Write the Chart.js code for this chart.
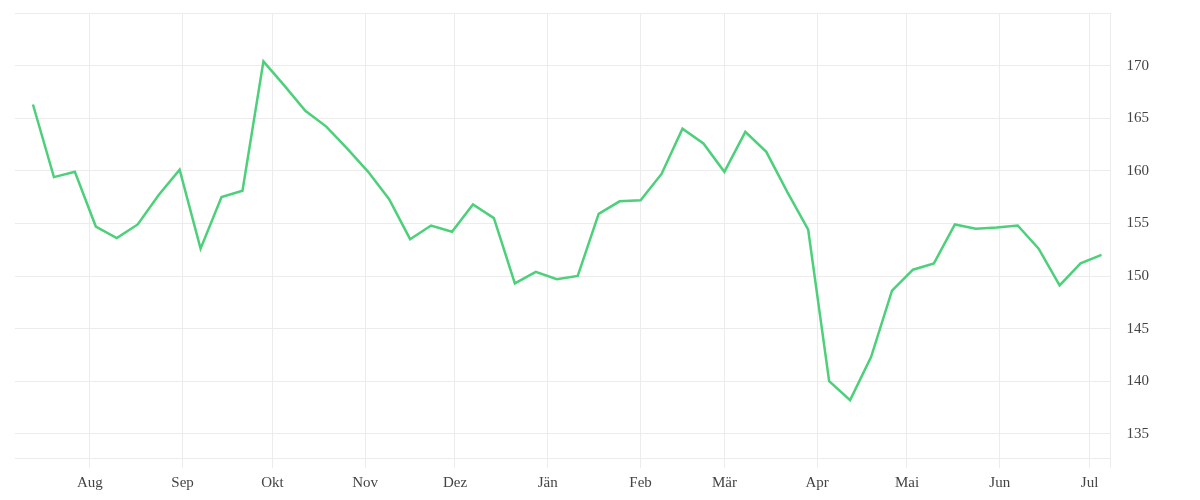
<!DOCTYPE html>
<html>
<head>
<meta charset="utf-8">
<script src="https://cdn.jsdelivr.net/npm/chart.js@4"></script>
<style>
  html, body { margin: 0; padding: 0; background: #fff; }
  #wrap { width: 1200px; height: 500px; }
</style>
</head>
<body>
<div id="wrap"><canvas id="chart" width="1200" height="500"></canvas></div>
<script>
// weekly closes, first week starts 2022-07-13
const startDate = "2022-07-13";
const values = [
  166.3, 159.4, 159.9, 154.7, 153.6, 154.9, 157.7, 160.1, 152.6, 157.5,
  158.1, 170.4, 168.1, 165.7, 164.2, 162.1, 159.9, 157.3, 153.5, 154.8,
  154.2, 156.8, 155.5, 149.3, 150.4, 149.7, 150.0, 155.9, 157.1, 157.2,
  159.7, 164.0, 162.6, 159.9, 163.7, 161.8, 158.0, 154.4, 140.0, 138.2,
  142.3, 148.6, 150.6, 151.2, 154.9, 154.5, 154.6, 154.8, 152.6, 149.1,
  151.2, 152.0,
];
const monthStarts = [
  "2022-08-01", "2022-09-01", "2022-10-01", "2022-11-01", "2022-12-01", "2023-01-01",
  "2023-02-01", "2023-03-01", "2023-04-01", "2023-05-01", "2023-06-01", "2023-07-01",
];
const monthLabels = ["Aug", "Sep", "Okt", "Nov", "Dez", "Jän", "Feb", "Mär", "Apr", "Mai", "Jun", "Jul"];
const yTicks = [135, 140, 145, 150, 155, 160, 165, 170, 175];

const DAY = 86400000;
const origin = Date.UTC(2022, 7, 1);
const toDay = (s) => {
  const [y, m, d] = s.split("-").map(Number);
  return (Date.UTC(y, m - 1, d) - origin) / DAY;
};

const firstDay = toDay(startDate);
const points = values.map((v, i) => ({ x: firstDay + i * 7, y: v }));
const monthDays = monthStarts.map(toDay);

const xMin = -25;
const xMax = 341;
const gridColor = "#ececec";
const textColor = "#444";

new Chart(document.getElementById("chart"), {
  type: "line",
  data: {
    datasets: [
      {
        data: points,
        borderColor: "rgb(76, 208, 122)",
        backgroundColor: "rgb(76, 208, 122)",
        borderWidth: 2.5,
        pointRadius: 0,
        tension: 0,
        fill: false,
      },
    ],
  },
  options: {
    responsive: false,
    animation: false,
    layout: { padding: { top: 0, left: 15, right: 47, bottom: 2 } },
    plugins: { legend: { display: false }, tooltip: { enabled: false } },
    scales: {
      x: {
        type: "linear",
        min: xMin,
        max: xMax,
        afterBuildTicks: (axis) => {
          axis.ticks = monthDays.map((d) => ({ value: d })).concat([{ value: xMax }]);
        },
        grid: { color: gridColor, tickLength: 10, drawTicks: true },
        border: { display: true, color: gridColor },
        ticks: {
          autoSkip: false,
          maxRotation: 0,
          color: textColor,
          padding: 6,
          font: { family: "Liberation Serif", size: 15 },
          callback: (value) => {
            const idx = monthDays.indexOf(value);
            return idx >= 0 ? monthLabels[idx] : "";
          },
        },
      },
      y: {
        position: "right",
        min: 132.7,
        max: 175,
        afterBuildTicks: (axis) => {
          axis.ticks = yTicks.map((v) => ({ value: v }));
        },
        grid: { color: gridColor, drawTicks: true, tickLength: 12, tickColor: "rgba(0,0,0,0)" },
        border: { display: false },
        ticks: {
          color: textColor,
          padding: 4,
          font: { family: "Liberation Serif", size: 15 },
          callback: (value) => (value === 175 ? "" : value),
        },
      },
    },
  },
});
</script>
</body>
</html>
